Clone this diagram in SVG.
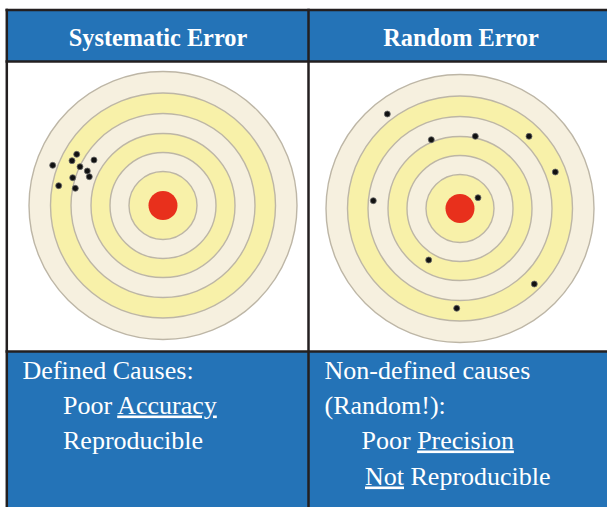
<svg xmlns="http://www.w3.org/2000/svg" xmlns:xlink="http://www.w3.org/1999/xlink" width="607" height="507" viewBox="0 0 607 507">
  <style>
    .cell-blue { fill: #2473b7; }
    .grid { stroke: #231f20; stroke-width: 2.5; fill: none; }
    .head { font-family: "Liberation Serif", "Times New Roman", serif; font-size: 24.3px; font-weight: bold; fill: #ffffff; text-anchor: middle; }
    .body { font-family: "Liberation Serif", "Times New Roman", serif; font-size: 26px; fill: #ffffff; }
    .cream { fill: #f6f0df; stroke: #bdb6a6; stroke-width: 1.4; }
    .yellow { fill: #f8f1a9; stroke: #bdb6a6; stroke-width: 1.4; }
    .bull { fill: #e8301c; }
    .hit { fill: #111111; stroke: #6b6b6b; stroke-width: 0.8; }
  </style>
  <defs>
    <!-- concentric target, centred on the origin -->
    <g id="target">
      <circle class="cream" r="134" stroke="#cfcac0"/>
      <circle class="yellow" r="112.5"/>
      <circle class="cream" r="92"/>
      <circle class="yellow" r="72"/>
      <circle class="cream" r="53"/>
      <circle class="yellow" r="34"/>
      <circle class="bull" r="14.5"/>
    </g>
  </defs>

  <rect width="607" height="507" fill="#ffffff"/>

  <!-- table cells -->
  <g id="table">
    <rect class="cell-blue" x="7" y="10" width="600" height="51.5"/>
    <rect class="cell-blue" x="7" y="351.5" width="600" height="155.5"/>
    <line class="grid" x1="5.5" y1="10" x2="607" y2="10"/>
    <line class="grid" x1="5.5" y1="61.5" x2="607" y2="61.5"/>
    <line class="grid" x1="5.5" y1="351.5" x2="607" y2="351.5"/>
    <line class="grid" x1="6.8" y1="8.8" x2="6.8" y2="507"/>
    <line class="grid" x1="308.5" y1="8.8" x2="308.5" y2="507"/>
  </g>

  <!-- column headings -->
  <g id="header-systematic">
    <text class="head" x="158" y="45.5">Systematic Error</text>
  </g>
  <g id="header-random">
    <text class="head" x="461" y="45.5">Random Error</text>
  </g>

  <!-- systematic error: tight cluster away from centre -->
  <g id="target-systematic">
    <use xlink:href="#target" href="#target" transform="translate(163 205.5)"/>
    <circle class="hit" cx="76.7" cy="154.3" r="3"/>
    <circle class="hit" cx="72" cy="160.7" r="3"/>
    <circle class="hit" cx="94" cy="160" r="3"/>
    <circle class="hit" cx="52.7" cy="165.3" r="3"/>
    <circle class="hit" cx="80" cy="166.7" r="3"/>
    <circle class="hit" cx="87.3" cy="171" r="3"/>
    <circle class="hit" cx="89.3" cy="176.7" r="3"/>
    <circle class="hit" cx="72.7" cy="177.7" r="3"/>
    <circle class="hit" cx="58.7" cy="185.7" r="3"/>
    <circle class="hit" cx="75.3" cy="188.3" r="3"/>
  </g>

  <!-- random error: hits scattered all over -->
  <g id="target-random">
    <use xlink:href="#target" href="#target" transform="translate(460 208.5)"/>
    <circle class="hit" cx="387.3" cy="114" r="3"/>
    <circle class="hit" cx="431.3" cy="139.7" r="3"/>
    <circle class="hit" cx="475.3" cy="136.3" r="3"/>
    <circle class="hit" cx="529" cy="136.3" r="3"/>
    <circle class="hit" cx="555.3" cy="172" r="3"/>
    <circle class="hit" cx="373.3" cy="200.7" r="3"/>
    <circle class="hit" cx="478" cy="197.7" r="3"/>
    <circle class="hit" cx="428.7" cy="260" r="3"/>
    <circle class="hit" cx="534.3" cy="284" r="3"/>
    <circle class="hit" cx="456.7" cy="308.3" r="3"/>
  </g>

  <!-- descriptions -->
  <g id="desc-systematic">
    <text class="body" x="22.5" y="378.5">Defined Causes:</text>
    <text class="body" x="63" y="413.5">Poor <tspan text-decoration="underline">Accuracy</tspan></text>
    <text class="body" x="63" y="448.5">Reproducible</text>
  </g>
  <g id="desc-random">
    <text class="body" x="324.5" y="378.5">Non-defined causes</text>
    <text class="body" x="324.5" y="413.5">(Random!):</text>
    <text class="body" x="361.5" y="448.5">Poor <tspan text-decoration="underline">Precision</tspan></text>
    <text class="body" x="365" y="484.5"><tspan text-decoration="underline">Not</tspan> Reproducible</text>
  </g>
</svg>
